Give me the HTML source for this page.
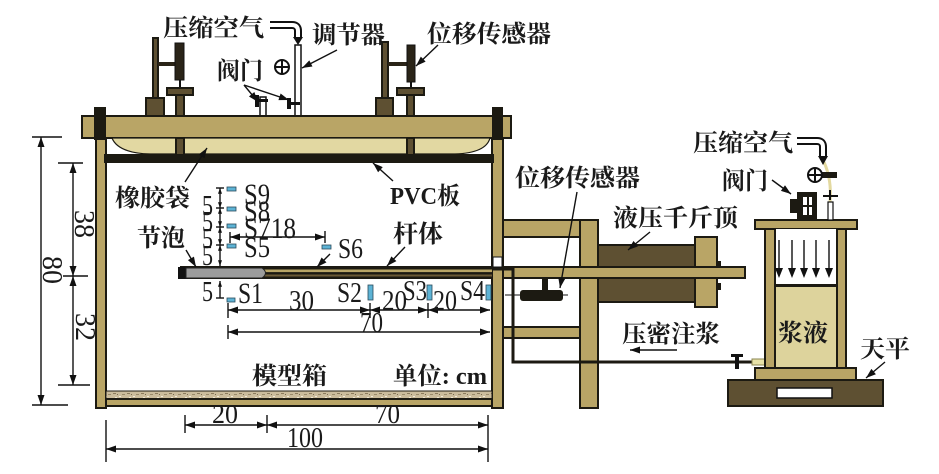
<!DOCTYPE html>
<html><head><meta charset="utf-8"><style>
html,body{margin:0;padding:0;background:#fff;}
svg{display:block}
.cn{font-family:"Liberation Serif","Noto Serif CJK SC",serif;font-weight:bold;fill:#1a1a1a}
.n{font-family:"Liberation Serif",serif;fill:#1a1a1a}
.k{fill:#b9a566;stroke:#1c1a12;stroke-width:2}
.d{fill:#5e5032;stroke:#1c1a12;stroke-width:2}
.l{stroke:#111;stroke-width:1.4;fill:none}
.s{fill:#5db3d5;stroke:#2a4a5a;stroke-width:0.8}
</style></head><body>
<svg width="939" height="474" viewBox="0 0 939 474" xmlns="http://www.w3.org/2000/svg">
<defs>
<marker id="a" viewBox="0 0 10 7" refX="10" refY="3.5" markerWidth="11" markerHeight="7" markerUnits="userSpaceOnUse" orient="auto-start-reverse"><path d="M0,0L10,3.5L0,7z" fill="#111"/></marker>
<marker id="b" viewBox="0 0 10 7" refX="10" refY="3.5" markerWidth="6" markerHeight="4" markerUnits="userSpaceOnUse" orient="auto-start-reverse"><path d="M0,0L10,3.5L0,7z" fill="#111"/></marker>
<pattern id="sand" width="14" height="8" patternUnits="userSpaceOnUse">
<rect width="14" height="8" fill="#cbbc9c"/>
<rect x="1" y="1" width="3" height="1" fill="#8c7b5c"/>
<rect x="7" y="4" width="2" height="1" fill="#f3ecdc"/>
<rect x="10" y="2" width="3" height="1" fill="#9a8a6a"/>
<rect x="3" y="5" width="2" height="1" fill="#efe6d2"/>
<rect x="5" y="2" width="1" height="1" fill="#7a6b50"/>
</pattern>
</defs>

<!-- left dimensions -->
<line class="l" x1="41" y1="137" x2="41" y2="405" marker-start="url(#a)" marker-end="url(#a)"/>
<line class="l" x1="32" y1="137" x2="62" y2="137"/>
<line class="l" x1="32" y1="405" x2="68" y2="405"/>
<line class="l" x1="73" y1="163" x2="73" y2="276" marker-start="url(#a)" marker-end="url(#a)"/>
<line class="l" x1="73" y1="276" x2="73" y2="385" marker-start="url(#a)" marker-end="url(#a)"/>
<line class="l" x1="58" y1="163" x2="83" y2="163"/>
<line class="l" x1="63" y1="276" x2="88" y2="276"/>
<line class="l" x1="58" y1="385" x2="90" y2="385"/>
<text class="n" font-size="28" text-anchor="middle" transform="translate(52,270) rotate(90)" dy="9">80</text>
<text class="n" font-size="28" text-anchor="middle" transform="translate(84,224) rotate(90)" dy="9">38</text>
<text class="n" font-size="28" text-anchor="middle" transform="translate(85,327) rotate(90)" dy="9">32</text>

<!-- top stands -->
<rect class="d" x="153" y="38" width="5" height="62" fill="#3a3020"/>
<rect x="158" y="62" width="18" height="4" fill="#2a2418"/>
<rect x="175" y="43" width="9" height="37" fill="#2a2418" stroke="#111"/>
<rect x="179" y="80" width="2" height="8" fill="#111"/>
<rect class="d" x="146" y="98" width="18" height="18"/>
<rect class="d" x="176" y="92" width="8" height="63"/>
<rect class="d" x="167" y="88" width="26" height="7"/>

<rect class="d" x="382" y="42" width="6" height="58" fill="#3a3020"/>
<rect x="388" y="62" width="19" height="4" fill="#2a2418"/>
<rect x="407" y="45" width="8" height="37" fill="#2a2418" stroke="#111"/>
<rect x="410" y="82" width="2" height="6" fill="#111"/>
<rect class="d" x="376" y="98" width="17" height="18"/>
<rect class="d" x="407" y="92" width="7" height="63"/>
<rect class="d" x="397" y="88" width="27" height="7"/>

<!-- pipes -->
<rect x="260" y="97" width="6" height="41" fill="#fff" stroke="#111" stroke-width="1.5"/>
<rect x="295" y="45" width="6" height="93" fill="#fff" stroke="#111" stroke-width="1.5"/>
<rect x="255" y="95" width="4" height="12" fill="#111"/>
<rect x="255" y="99" width="13" height="3" fill="#111"/>
<rect x="287" y="98" width="4" height="11" fill="#111"/>
<rect x="287" y="102" width="13" height="3" fill="#111"/>
<circle cx="282" cy="67" r="7" fill="#fff" stroke="#111" stroke-width="2"/>
<line x1="275" y1="67" x2="289" y2="67" stroke="#111" stroke-width="2"/>
<line x1="282" y1="60" x2="282" y2="74" stroke="#111" stroke-width="2"/>
<!-- hook arrow top -->
<path d="M270,25 L292,25 Q298,25 298,31 L298,38" fill="none" stroke="#111" stroke-width="8"/>
<path d="M270,25 L292,25 Q298,25 298,31 L298,39" fill="none" stroke="#fff" stroke-width="4"/>
<path d="M293,37 L303,37 L298,45z" fill="#111"/>

<!-- walls, lid -->
<rect class="k" x="96" y="138" width="10" height="270"/>
<rect class="k" x="492" y="138" width="11" height="270"/>
<rect x="493" y="257" width="9" height="10" fill="#fff" stroke="#111"/>
<rect class="k" x="82" y="116" width="429" height="22"/>
<rect x="94" y="107" width="12" height="33" fill="#1c1a12"/>
<rect x="492" y="107" width="11" height="33" fill="#1c1a12"/>
<path d="M112,138 Q118,153 150,154 L455,154 Q486,153 490,138 Z" fill="#e2d8a2" stroke="#1c1a12" stroke-width="1.2"/>
<rect x="104" y="154" width="390" height="9" fill="#1c1a12"/>
<rect class="d" x="176" y="138" width="8" height="17"/>
<rect class="d" x="407" y="138" width="7" height="17"/>

<!-- bottom -->
<rect x="106" y="391" width="386" height="8" fill="url(#sand)" stroke="#1c1a12" stroke-width="1"/>
<rect class="k" x="106" y="399" width="386" height="7" stroke-width="1"/>

<!-- reaction frame -->
<rect class="k" x="503" y="220" width="95" height="17"/>
<rect class="k" x="580" y="220" width="18" height="188"/>
<rect class="k" x="503" y="327" width="77" height="11"/>
<!-- jack -->
<rect class="d" x="598" y="245" width="97" height="57"/>
<rect class="k" x="695" y="237" width="22" height="70"/>
<rect x="717" y="261" width="4" height="7" fill="#1c1a12"/>
<rect x="717" y="283" width="4" height="7" fill="#1c1a12"/>
<rect class="k" x="503" y="267" width="242" height="11"/>
<!-- right displacement sensor -->
<line x1="505" y1="295" x2="568" y2="295" stroke="#111" stroke-width="1"/>
<rect x="542" y="278" width="6" height="13" fill="#1c1a12"/>
<rect x="520" y="290" width="43" height="11" rx="3" fill="#1c1a12"/>

<!-- rod -->
<rect x="180" y="266" width="313" height="13" fill="#1c1a12"/>
<rect x="262" y="269.5" width="230" height="2.6" fill="#b9a566"/>
<rect x="262" y="274.5" width="230" height="2" fill="#6b5a35"/>
<rect x="178" y="267" width="10" height="12" fill="#111"/>
<path d="M186,268 L262,268 Q269,273 262,278 L186,278 Z" fill="#9c9c9c" stroke="#222" stroke-width="1"/>
<!-- grout pipe -->
<path d="M492,269 L513,269 L513,362 L752,362" fill="none" stroke="#1c1a12" stroke-width="3"/>
<rect x="735" y="355" width="4" height="14" fill="#111"/>
<rect x="731" y="354" width="12" height="3" fill="#111"/>
<rect x="752" y="359" width="23" height="6" fill="#e8e2a8" stroke="#8a8450" stroke-width="1"/>

<!-- sensors -->
<rect class="s" x="227" y="187" width="9" height="4"/>
<rect class="s" x="227" y="207" width="9" height="4"/>
<rect class="s" x="227" y="224" width="9" height="4"/>
<rect class="s" x="227" y="244" width="9" height="4"/>
<rect class="s" x="227" y="298" width="8" height="4"/>
<rect class="s" x="322" y="245" width="9" height="4"/>
<rect class="s" x="368" y="285" width="5" height="15"/>
<rect class="s" x="427" y="285" width="5" height="15"/>
<rect class="s" x="486" y="285" width="5" height="15"/>

<!-- 5 dims -->
<line class="l" x1="220" y1="188" x2="220" y2="208" marker-start="url(#b)" marker-end="url(#b)" stroke-width="1"/>
<line class="l" x1="220" y1="208" x2="220" y2="227" marker-start="url(#b)" marker-end="url(#b)" stroke-width="1"/>
<line class="l" x1="220" y1="227" x2="220" y2="245" marker-start="url(#b)" marker-end="url(#b)" stroke-width="1"/>
<line class="l" x1="220" y1="245" x2="220" y2="266" marker-start="url(#b)" marker-end="url(#b)" stroke-width="1"/>
<line class="l" x1="216" y1="188" x2="224" y2="188" stroke-width="1"/>
<line class="l" x1="216" y1="208" x2="224" y2="208" stroke-width="1"/>
<line class="l" x1="216" y1="227" x2="224" y2="227" stroke-width="1"/>
<line class="l" x1="216" y1="245" x2="224" y2="245" stroke-width="1"/>
<line class="l" x1="220" y1="281" x2="220" y2="298" marker-start="url(#b)" stroke-width="1"/>
<line class="l" x1="216" y1="298" x2="224" y2="298" stroke-width="1"/>
<text class="n" x="202" y="215" font-size="29" textLength="11" lengthAdjust="spacingAndGlyphs">5</text>
<text class="n" x="202" y="231" font-size="29" textLength="11" lengthAdjust="spacingAndGlyphs">5</text>
<text class="n" x="202" y="248" font-size="29" textLength="11" lengthAdjust="spacingAndGlyphs">5</text>
<text class="n" x="202" y="265" font-size="29" textLength="11" lengthAdjust="spacingAndGlyphs">5</text>
<text class="n" x="202" y="301" font-size="29" textLength="11" lengthAdjust="spacingAndGlyphs">5</text>

<!-- horizontal dims inside -->
<line class="l" x1="230" y1="237" x2="325" y2="237" marker-start="url(#a)" marker-end="url(#a)"/>
<line class="l" x1="230" y1="232" x2="230" y2="243"/>
<line class="l" x1="325" y1="231" x2="325" y2="243"/>
<line class="l" x1="228" y1="310" x2="370" y2="310" marker-start="url(#a)" marker-end="url(#a)"/>
<line class="l" x1="370" y1="310" x2="428" y2="310" marker-start="url(#a)" marker-end="url(#a)"/>
<line class="l" x1="428" y1="310" x2="490" y2="310" marker-start="url(#a)" marker-end="url(#a)"/>
<line class="l" x1="228" y1="303" x2="228" y2="318"/>
<line class="l" x1="370" y1="303" x2="370" y2="318"/>
<line class="l" x1="428" y1="303" x2="428" y2="318"/>
<line class="l" x1="228" y1="332" x2="490" y2="332" marker-start="url(#a)" marker-end="url(#a)"/>
<line class="l" x1="228" y1="325" x2="228" y2="339"/>

<!-- bottom dims -->
<line class="l" x1="185" y1="425" x2="267" y2="425" marker-start="url(#a)" marker-end="url(#a)"/>
<line class="l" x1="267" y1="425" x2="488" y2="425" marker-start="url(#a)" marker-end="url(#a)"/>
<line class="l" x1="106" y1="449" x2="488" y2="449" marker-start="url(#a)" marker-end="url(#a)"/>
<line class="l" x1="185" y1="415" x2="185" y2="433"/>
<line class="l" x1="267" y1="415" x2="267" y2="433"/>
<line class="l" x1="106" y1="420" x2="106" y2="462"/>
<line class="l" x1="488" y1="415" x2="488" y2="462"/>

<!-- grout container -->
<rect class="k" x="755" y="220" width="102" height="9"/>
<rect x="775" y="229" width="62" height="56" fill="#fff"/>
<rect x="775" y="287" width="62" height="81" fill="#ddd39c"/>
<rect x="775" y="284" width="62" height="3" fill="#1c1a12"/>
<rect class="k" x="765" y="229" width="10" height="139"/>
<rect class="k" x="837" y="229" width="9" height="139"/>
<g stroke="#111" stroke-width="1.4">
<line x1="779" y1="240" x2="779" y2="270"/><line x1="792" y1="240" x2="792" y2="270"/><line x1="804" y1="240" x2="804" y2="270"/><line x1="816" y1="240" x2="816" y2="270"/><line x1="829" y1="240" x2="829" y2="270"/>
</g>
<g fill="#111">
<path d="M775,268L783,268L779,278z"/><path d="M788,268L796,268L792,278z"/><path d="M800,268L808,268L804,278z"/><path d="M812,268L820,268L816,278z"/><path d="M825,268L833,268L829,278z"/>
</g>
<rect class="k" x="755" y="368" width="101" height="12"/>
<rect class="d" x="728" y="380" width="155" height="26"/>
<rect x="777" y="388" width="55" height="10" fill="#fff" stroke="#111" stroke-width="1.5"/>
<!-- valve top container -->
<rect x="790" y="199" width="10" height="14" fill="#1c1a12"/>
<rect x="797" y="192" width="20" height="28" fill="#1c1a12"/>
<rect x="803" y="197" width="9" height="18" fill="#fff"/>
<rect x="807" y="197" width="2" height="18" fill="#1c1a12"/>
<rect x="803" y="205" width="9" height="2" fill="#1c1a12"/>
<path d="M824,162 Q832,180 830,202" fill="none" stroke="#e3d9a0" stroke-width="3"/>
<rect x="828" y="202" width="5" height="18" fill="#fff" stroke="#111" stroke-width="1.2"/>
<line x1="823" y1="196" x2="838" y2="196" stroke="#111" stroke-width="2"/>
<line x1="830" y1="190" x2="830" y2="200" stroke="#111" stroke-width="2"/>
<rect x="821" y="172" width="16" height="6" fill="#1c1a12"/>
<circle cx="815" cy="175" r="7" fill="#fff" stroke="#111" stroke-width="2"/>
<line x1="808" y1="175" x2="822" y2="175" stroke="#111" stroke-width="2"/>
<line x1="815" y1="168" x2="815" y2="182" stroke="#111" stroke-width="2"/>
<path d="M797,141 L817,141 Q823,141 823,147 L823,157" fill="none" stroke="#111" stroke-width="8"/>
<path d="M797,141 L817,141 Q823,141 823,147 L823,158" fill="none" stroke="#fff" stroke-width="4"/>
<path d="M818,156 L828,156 L823,165z" fill="#111"/>

<!-- leaders -->
<g class="l" stroke-width="1.4" marker-end="url(#a)">
<line x1="337" y1="50" x2="302" y2="68"/>
<line x1="438" y1="45" x2="416" y2="66"/>
<line x1="244" y1="85" x2="258" y2="102"/>
<line x1="244" y1="85" x2="289" y2="100"/>
<line x1="185" y1="182" x2="207" y2="148"/>
<line x1="393" y1="181" x2="373" y2="163"/>
<line x1="186" y1="250" x2="196" y2="267"/>
<line x1="330" y1="254" x2="317" y2="267"/>
<line x1="405" y1="247" x2="387" y2="266"/>
<line x1="577" y1="192" x2="560" y2="288"/>
<line x1="650" y1="232" x2="628" y2="250"/>
<line x1="772" y1="180" x2="791" y2="194"/>
<line x1="885" y1="362" x2="866" y2="378"/>
<line x1="677" y1="350" x2="630" y2="350"/>
</g>

<!-- Chinese labels -->
<text class="cn" x="163" y="36" font-size="24" textLength="101" lengthAdjust="spacingAndGlyphs">压缩空气</text>
<text class="cn" x="312" y="43" font-size="24" textLength="73" lengthAdjust="spacingAndGlyphs">调节器</text>
<text class="cn" x="427" y="42" font-size="24" textLength="124" lengthAdjust="spacingAndGlyphs">位移传感器</text>
<text class="cn" x="217" y="79" font-size="24" textLength="46" lengthAdjust="spacingAndGlyphs">阀门</text>
<text class="cn" x="115" y="206" font-size="24" textLength="75" lengthAdjust="spacingAndGlyphs">橡胶袋</text>
<text class="cn" x="137" y="246" font-size="24" textLength="48" lengthAdjust="spacingAndGlyphs">节泡</text>
<text class="cn" x="390" y="204" font-size="24" textLength="70" lengthAdjust="spacingAndGlyphs">PVC板</text>
<text class="cn" x="393" y="242" font-size="24" textLength="50" lengthAdjust="spacingAndGlyphs">杆体</text>
<text class="cn" x="252" y="384" font-size="24" textLength="75" lengthAdjust="spacingAndGlyphs">模型箱</text>
<text class="cn" x="393" y="384" font-size="24" textLength="94" lengthAdjust="spacingAndGlyphs">单位: cm</text>
<text class="cn" x="515" y="186" font-size="24" textLength="125" lengthAdjust="spacingAndGlyphs">位移传感器</text>
<text class="cn" x="613" y="226" font-size="24" textLength="125" lengthAdjust="spacingAndGlyphs">液压千斤顶</text>
<text class="cn" x="693" y="151" font-size="24" textLength="100" lengthAdjust="spacingAndGlyphs">压缩空气</text>
<text class="cn" x="722" y="189" font-size="24" textLength="46" lengthAdjust="spacingAndGlyphs">阀门</text>
<text class="cn" x="778" y="341" font-size="24" textLength="50" lengthAdjust="spacingAndGlyphs">浆液</text>
<text class="cn" x="860" y="357" font-size="24" textLength="50" lengthAdjust="spacingAndGlyphs">天平</text>
<text class="cn" x="622" y="342" font-size="24" textLength="98" lengthAdjust="spacingAndGlyphs">压密注浆</text>

<!-- sensor labels & numbers -->
<text class="n" x="244" y="204" font-size="30" textLength="26" lengthAdjust="spacingAndGlyphs">S9</text>
<text class="n" x="244" y="221" font-size="30" textLength="26" lengthAdjust="spacingAndGlyphs">S8</text>
<text class="n" x="244" y="238" font-size="30" textLength="52" lengthAdjust="spacingAndGlyphs">S718</text>
<text class="n" x="244" y="257" font-size="30" textLength="26" lengthAdjust="spacingAndGlyphs">S5</text>
<text class="n" x="238" y="303" font-size="30" textLength="25" lengthAdjust="spacingAndGlyphs">S1</text>
<text class="n" x="338" y="258" font-size="29" textLength="25" lengthAdjust="spacingAndGlyphs">S6</text>
<text class="n" x="337" y="302" font-size="29" textLength="25" lengthAdjust="spacingAndGlyphs">S2</text>
<text class="n" x="403" y="300" font-size="29" textLength="24" lengthAdjust="spacingAndGlyphs">S3</text>
<text class="n" x="460" y="300" font-size="29" textLength="25" lengthAdjust="spacingAndGlyphs">S4</text>
<text class="n" x="289" y="310" font-size="29" textLength="25" lengthAdjust="spacingAndGlyphs">30</text>
<text class="n" x="382" y="310" font-size="29" textLength="25" lengthAdjust="spacingAndGlyphs">20</text>
<text class="n" x="433" y="310" font-size="29" textLength="24" lengthAdjust="spacingAndGlyphs">20</text>
<text class="n" x="360" y="332" font-size="29" textLength="23" lengthAdjust="spacingAndGlyphs">70</text>
<text class="n" x="212" y="423" font-size="27" textLength="26" lengthAdjust="spacingAndGlyphs">20</text>
<text class="n" x="375" y="423" font-size="27" textLength="25" lengthAdjust="spacingAndGlyphs">70</text>
<text class="n" x="287" y="447" font-size="29" textLength="36" lengthAdjust="spacingAndGlyphs">100</text>
</svg>
</body></html>
